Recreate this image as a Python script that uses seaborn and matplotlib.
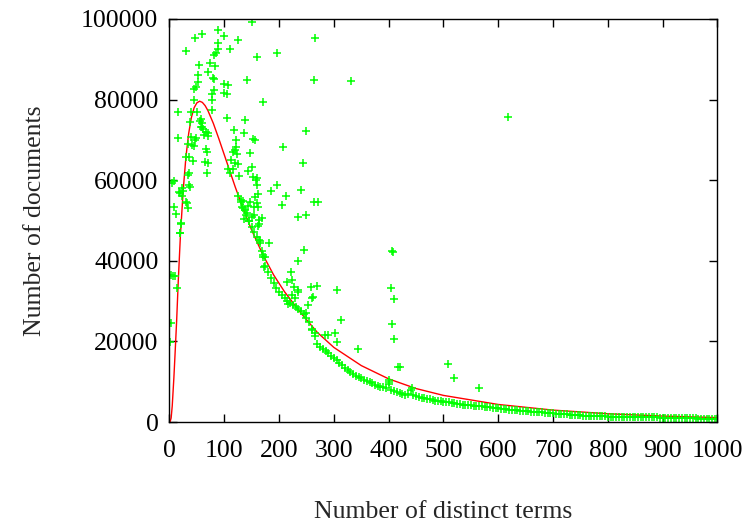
import numpy as np
import pandas as pd
import matplotlib
matplotlib.use("Agg")
import matplotlib.pyplot as plt
import seaborn as sns

# ---- Data ----
# main band: documents per number of distinct terms (x = 125..1000, step 5)
main_x = np.arange(125, 1001, 5)
main_y = [
    56000, 54500, 53000, 51300, 49800, 48500, 47200, 45800, 44300, 41500,
    38800, 37200, 35800, 34400, 33200, 32300, 31500, 30700, 30100, 29500,
    29000, 28500, 28000, 27500, 26800, 25900, 24700, 23000, 21300, 19300,
    18500, 18100, 17600, 17100, 16500, 16000, 15300, 14700, 14100, 13500,
    13000, 12500, 12000, 11500, 11100, 10800, 10500, 10200, 9900, 9600,
    9300, 9000, 8800, 8600, 8400, 9900, 8000, 7600, 7400, 7200,
    7000, 6800, 6900, 7900, 6700, 6400, 6200, 6000, 5900, 5800,
    5600, 5500, 5300, 5200, 5100, 5000, 4950, 4850, 4750, 4600,
    4500, 4400, 4300, 4200, 4150, 4100, 4000, 3950, 3900, 3850,
    3800, 3750, 3650, 3550, 3450, 3380, 3300, 3220, 3150, 3100,
    3020, 2950, 2880, 2800, 2750, 2700, 2650, 2600, 2550, 2500,
    2450, 2400, 2350, 2280, 2220, 2150, 2100, 2050, 2000, 1950,
    1900, 1850, 1800, 1750, 1700, 1650, 1600, 1560, 1530, 1500,
    1480, 1450, 1430, 1400, 1380, 1360, 1340, 1330, 1320, 1310,
    1300, 1290, 1280, 1270, 1260, 1250, 1240, 1230, 1210, 1200,
    1190, 1170, 1150, 1120, 1100, 1080, 1060, 1040, 1020, 1000,
    990, 970, 950, 930, 910, 900, 890, 880, 870, 860,
    850, 840, 830, 820, 810, 800,
]

# scattered points (short documents + outliers)
cloud_x = [
    89, 59, 46.5, 100, 124.5, 88, 29.6, 89, 111, 84, 82, 54, 74.5, 83, 51.5,
    71, 79, 82, 52.6, 48, 44, 99, 107, 80.5, 78, 99, 105, 77, 45, 16, 39, 50,
    77, 57.5, 55, 105, 38,
    59, 57.5, 61.7, 60, 71, 70, 63.5, 67, 15, 39, 46.5, 48, 118, 122, 33, 44,
    41.6, 121, 119.5, 66, 68.4, 116, 123, 29.5, 35.6, 43, 65, 70, 112, 119.5,
    125.6, 107, 116, 111, 68.4, 35.6, 33, 127, 9, 5, 22, 24.6, 35.6, 17, 29.5,
    33, 9, 11, 21,
    19, 3, 7, 10, 13.7, 3, 0.4, 19, 22, 31.4, 37.4, 20.4, 19,
    150, 160, 138, 141, 147.5, 136.5, 170.6, 151, 144, 153, 157, 160, 196,
    265.5, 264, 331, 249, 207.7, 156, 151.8, 243, 159, 195.6, 185, 161, 212,
    240.5, 204.7, 264, 271.5, 162, 235, 248.5, 168, 163, 181.6, 245, 163, 174,
    234, 222, 214, 223, 228, 235, 258, 270, 305.7, 262, 313, 344.5, 302, 305,
    284, 290, 260, 253, 250, 234, 229, 223, 217, 265.5, 259.5,
    405.5, 407, 405, 409, 406, 409.6, 417.5, 420.6, 508.8, 519.7, 565, 617.7,
    400, 401, 442,
    130.5, 135, 133, 138, 141, 136.5, 145, 151, 155, 142.7, 147.5, 156, 160,
    155, 163, 162, 165, 168, 171, 173,
]
cloud_y = [
    97250, 96250, 95350, 95800, 94700, 94100, 92000, 92500, 92500, 91500,
    91050, 88600, 89000, 88300, 86100, 86800, 85400, 85100, 84400, 83200,
    82600, 83900, 83600, 82400, 81500, 81600, 81300, 79900, 79900, 77000,
    77000, 76800, 77400, 75200, 74700, 75500, 74400,
    74100, 73100, 72700, 73300, 71600, 71000, 71200, 72000, 70400, 70800,
    70000, 70400, 72400, 70000, 69100, 68500, 68700, 68200, 67500, 67700,
    67100, 67100, 66500, 65700, 65700, 64800, 64600, 64200, 65000, 64300,
    64000, 62900, 62700, 61900, 61700, 61700, 61200, 61000, 59900, 59200,
    58000, 57400, 58700, 57100, 54700, 53000, 53300, 51600, 49100,
    46800, 36600, 36300, 36300, 33200, 24600, 19800, 56900, 56100, 54400,
    58400, 49300, 47000,
    99300, 90600, 74900, 84900, 66800, 71800, 79500, 63300, 62300, 60700,
    60000, 58800, 91500, 95200, 84900, 84700, 72300, 68300, 70000, 70100,
    64200, 60500, 58800, 57300, 56500, 56100, 57600, 53800, 54500, 54500,
    53300, 50900, 51400, 50500, 49100, 44500, 42700, 45200, 41000, 40000,
    37300, 34800, 35200, 33600, 32700, 33400, 33700, 32700, 31100, 25300,
    18000, 22000, 19900, 21600, 21600, 30700, 29000, 27000, 32300, 30700,
    31500, 29400, 22000, 22800,
    42400, 42300, 33200, 30500, 24200, 20500, 13600, 13600, 14400, 10800,
    8500, 75700,
    10500, 9500, 8400,
    55200, 54800, 53300, 52600, 51800, 50300, 49900, 50900, 51400, 53600,
    54600, 55900, 54400, 53300, 50100, 48600, 44900, 42400, 41000, 38500,
]

# fitted curve, sampled
fit_x = [0, 1, 3, 5, 8, 10, 13, 16, 20, 25, 30, 35, 40, 45, 50, 55, 60, 65,
         70, 80, 90, 100, 110, 120, 135, 150, 170, 190, 210, 240, 270, 300,
         350, 400, 450, 500, 600, 700, 800, 900, 1000]
fit_y = [0, 20, 1000, 4000, 11000, 16500, 25000, 35000, 46500, 57500, 65800,
         71600, 75600, 78000, 79200, 79600, 79300, 78500, 77300, 74100, 70300,
         66300, 62300, 58300, 52700, 47600, 41600, 36500, 32300, 27000, 22200,
         18500, 14000, 10700, 8300, 6600, 4350, 2950, 2050, 1470, 1090]

x_ticks = list(range(0, 1001, 100))
y_ticks = list(range(0, 100001, 20000))


def main():
    sns.set_style("ticks")
    plt.rcParams["font.family"] = ["Liberation Serif", "DejaVu Serif"]
    plt.rcParams["font.size"] = 18.5

    pts = pd.DataFrame({
        "terms": np.concatenate([main_x, cloud_x]),
        "docs": np.concatenate([main_y, cloud_y]),
    })
    fit = pd.DataFrame({"terms": fit_x, "docs": fit_y})

    fig = plt.figure(figsize=(7.49, 5.23), dpi=100)
    ax = fig.add_axes([0.2263, 0.1931, 0.7316, 0.7706])

    # fit line under the points, as in the reference tail
    sns.lineplot(data=fit, x="terms", y="docs", color="#ff0000", lw=1.0,
                 ax=ax, zorder=2)
    sns.scatterplot(data=pts, x="terms", y="docs", marker="+", s=36,
                    color="#00ff00", linewidth=1.1, ax=ax, zorder=3)

    ax.set_xlim(0, 1000)
    ax.set_ylim(0, 100000)
    ax.set_xticks(x_ticks)
    ax.set_yticks(y_ticks)
    ax.tick_params(direction="in", length=6, width=1, top=True, right=True,
                   labelsize=18.5, colors="black")
    ax.tick_params(axis="y", pad=8)
    ax.tick_params(axis="x", pad=13)
    for sp in ax.spines.values():
        sp.set_visible(True)
        sp.set_linewidth(1.0)
        sp.set_color("black")
        sp.set_zorder(4)

    ax.set_xlabel("Number of distinct terms", fontsize=18.5)
    ax.set_ylabel("Number of documents", fontsize=18.5)
    ax.xaxis.set_label_coords(0.5, -0.195)
    ax.yaxis.set_label_coords(-0.226, 0.5)

    fig.savefig("out.png", dpi=100)
    plt.close(fig)


if __name__ == "__main__":
    main()
